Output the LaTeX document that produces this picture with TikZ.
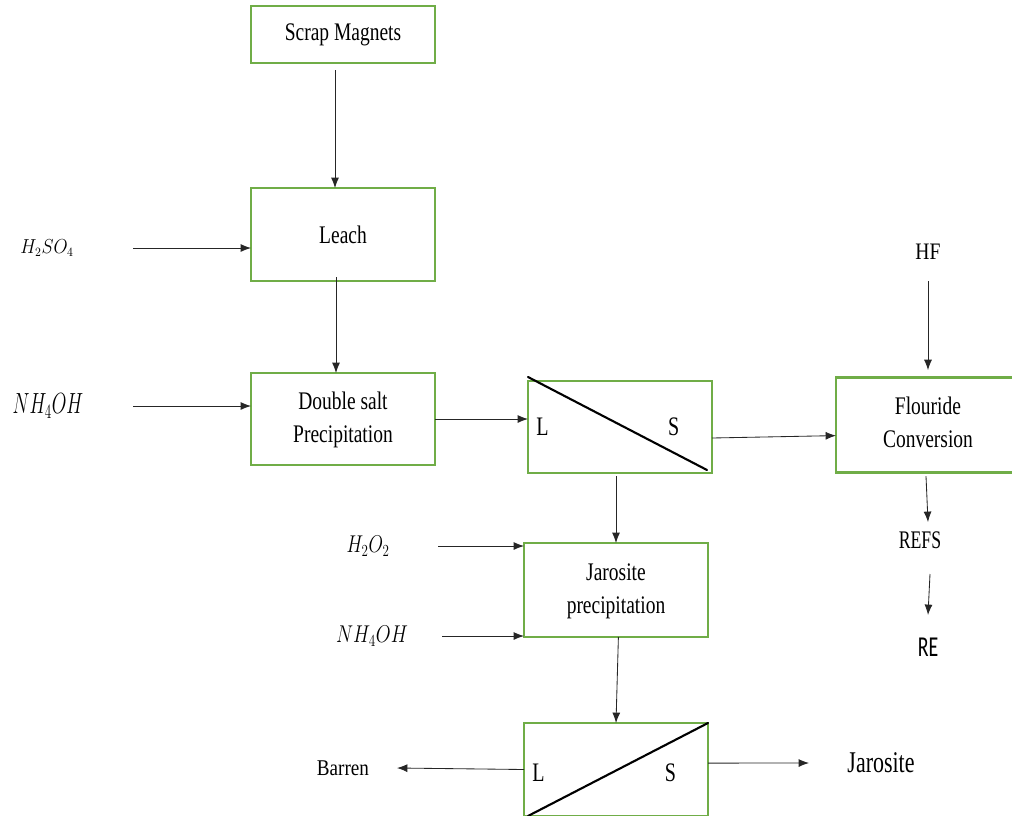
\documentclass[tikz,border=0pt]{standalone}
\usepackage{graphicx}
\usepackage{fontspec}
\setmainfont{Liberation Serif}
\newfontfamily\sansre{Carlito}
\usetikzlibrary{positioning, arrows.meta, calc}
\definecolor{procgreen}{RGB}{112,173,71}
\newcommand{\squeeze}[2][0.77]{\scalebox{#1}[1]{#2}}
\newcommand{\twolines}[2]{\squeeze{\begin{tabular}{@{}c@{}}#1\\#2\end{tabular}}}

\begin{document}
\begin{tikzpicture}[node distance=2.3cm,
        every edge/.style={->,draw=black!85,line width=0.6pt,>={Latex[length=2.6mm,width=2mm]}},
        proc/.style={draw=procgreen,line width=2pt,outer sep=0pt,minimum width=4.6cm,minimum height=2.3cm,align=center,font=\fontsize{18}{23.4}\selectfont},
        sep/.style={proc,minimum width=4.6cm},
        lbl/.style={font=\fontsize{19}{21}\selectfont},
        cut/.style={line width=1.5pt,line cap=round},]

        \useasboundingbox (0,0) rectangle (25.3,-20.4);
        \clip (0,0) rectangle (25.3,-20.4);

        % main line
        \node[proc, minimum height=1.425cm] (n_scrap) at (8.575,-0.8625) {\squeeze{Scrap Magnets}};
        \node[proc, minimum height=2.325cm] (n_leach) [below=3.125cm of n_scrap] {\squeeze{Leach}};
        \node[proc] (n_dsalt) [below=2.3cm of n_leach] {\twolines{Double salt}{Precipitation}};
        \node[sep] (n_sep1) [right=2.325cm of n_dsalt, yshift=-0.2cm] {};
        \node[proc, minimum height=2.375cm] (n_flour) [right=3.1cm of n_sep1, yshift=0.06cm] {\twolines{Flouride}{Conversion}};
        \node[proc, minimum height=2.35cm] (n_jaro) [below=1.75cm of n_sep1, xshift=-0.1cm] {\twolines{Jarosite}{precipitation}};
        \node[sep, minimum height=2.325cm] (n_sep2) [below=2.15cm of n_jaro] {};

        \draw[cut] ([yshift=0.1cm]n_sep1.north west) -- ([xshift=-0.125cm,yshift=0.075cm]n_sep1.south east);
        \draw[cut] ([xshift=0.1cm]n_sep2.south west) -- (n_sep2.north east);
        \node[lbl] (n_sep1_l) at ([xshift=-1.94cm]n_sep1.center) {\squeeze[0.75]{L}};
        \node[lbl] (n_sep1_s) at ([xshift=1.34cm]n_sep1.center) {\squeeze[0.75]{S}};
        \node[lbl] (n_sep2_l) at ([xshift=-1.94cm,yshift=-0.09cm]n_sep2.center) {\squeeze[0.75]{L}};
        \node[lbl] (n_sep2_s) at ([xshift=1.36cm,yshift=-0.09cm]n_sep2.center) {\squeeze[0.75]{S}};

        % reagents and products
        \node[font=\fontsize{13.5}{16}\selectfont] (n_h2so4) at (1.175,-6.2) {\squeeze[0.9]{$H_2SO_4$}};
        \node[font=\fontsize{20.8}{23}\selectfont] (n_nh4oh_a) at (1.2,-10.15) {\squeeze[0.65]{$NH_4OH$}};
        \node[font=\fontsize{18.8}{21}\selectfont] (n_h2o2) at (9.2,-13.65) {\squeeze[0.77]{$H_2O_2$}};
        \node[font=\fontsize{17.6}{20}\selectfont] (n_nh4oh_b) at (9.3,-15.9) {\squeeze[0.79]{$NH_4OH$}};
        \node[font=\fontsize{16.8}{19}\selectfont] (n_hf) at (23.2,-6.3) {\squeeze[0.83]{HF}};
        \node[font=\fontsize{18}{20}\selectfont] (n_refs) at (23.0,-13.5) {\squeeze[0.7]{REFS}};
        \node[font=\fontsize{20.5}{23}\sansre] (n_re) at (23.2,-16.175) {\squeeze[0.69]{RE}};
        \node[font=\fontsize{16}{18}\selectfont] (n_barren) at (8.575,-19.2) {\squeeze[0.85]{Barren}};
        \node[font=\fontsize{21.4}{24}\selectfont] (n_jarosite) at (22.025,-19.075) {\squeeze[0.73]{Jarosite}};

        \path ([xshift=-0.2cm]n_scrap.south) edge [shorten <=0.175cm] ([xshift=-0.2cm]n_leach.north);
        \path ([xshift=-0.175cm,yshift=0.1cm]n_leach.south) edge ([xshift=-0.175cm]n_dsalt.north);
        \path ([xshift=2.15cm]n_h2so4.center) edge (n_h2so4 -| n_leach.west);
        \path ([xshift=2.125cm]n_nh4oh_a.center) edge (n_nh4oh_a -| n_dsalt.west);
        \path (n_dsalt.east) edge (n_dsalt -| n_sep1.west);
        \path ([yshift=-0.275cm]n_sep1.east) edge ([yshift=-0.275cm]n_flour.west);
        \path ([yshift=-0.725cm]n_hf.center) edge [shorten >=0.175cm] (n_hf |- n_flour.north);
        \path ($(n_flour.south)+(-0.05,-0.1)$) edge ($(n_refs.center)+(0.2,0.45)$);
        \path ($(n_refs.center)+(0.25,-0.85)$) edge ($(n_re.center)+(0,0.8)$);
        \path ([xshift=-0.1cm,yshift=-0.075cm]n_sep1.south) edge (n_jaro.north);
        \path ([xshift=1.75cm]n_h2o2.center) edge (n_h2o2 -| n_jaro.west);
        \path ([xshift=1.75cm]n_nh4oh_b.center) edge (n_nh4oh_b -| n_jaro.west);
        \path ([xshift=0.06cm]n_jaro.south) edge (n_sep2.north);
        \path (n_sep2.west) edge ($(n_barren.center)+(1.35,0)$);
        \path ([yshift=0.16cm]n_sep2.east) edge ($(n_jarosite.center)+(-1.8,0)$);

    \end{tikzpicture}
\end{document}
